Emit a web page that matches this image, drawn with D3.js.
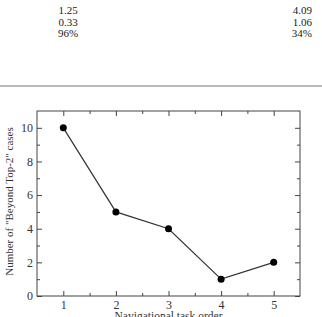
<!DOCTYPE html>
<html>
<head>
<meta charset="utf-8">
<script src="https://cdn.jsdelivr.net/npm/d3@7"></script>
<style>
  body { margin:0; background:#fff; }
</style>
</head>
<body>
<script>
// table fragment at the top
const tableLeft = ['1.25', '0.33', '96%'];
const tableRight = ['4.09', '1.06', '34%'];

// chart values
const taskOrder = [1, 2, 3, 4, 5];
const beyondTop2 = [10, 5, 4, 1, 2];
const xTicks = [1, 2, 3, 4, 5];
const yTicks = [0, 2, 4, 6, 8, 10];

const W = 322, H = 317;
const serif = '"Times New Roman", "Liberation Serif", "DejaVu Serif", serif';
const svg = d3.select('body').append('svg').attr('width', W).attr('height', H);

// table rows
tableLeft.forEach((t, i) => {
  svg.append('text').text(t).attr('x', 68).attr('y', 14 + i * 11.5)
    .attr('text-anchor', 'middle').attr('font-family', serif).attr('font-size', '11px').attr('fill', '#222');
});
tableRight.forEach((t, i) => {
  svg.append('text').text(t).attr('x', 312).attr('y', 14 + i * 11.5)
    .attr('text-anchor', 'end').attr('font-family', serif).attr('font-size', '11px').attr('fill', '#222');
});
svg.append('line').attr('x1', 0).attr('x2', W).attr('y1', 86).attr('y2', 86)
  .attr('stroke', '#777').attr('stroke-width', 1.2);

// plot area
const margin = {top: 111, right: 22, bottom: 21, left: 37};
const innerW = W - margin.left - margin.right;
const innerH = H - margin.top - margin.bottom;
const g = svg.append('g').attr('transform', `translate(${margin.left},${margin.top})`);

const xScale = d3.scaleLinear().domain([0.5, 5.5]).range([0, innerW]);
const yScale = d3.scaleLinear().domain([0, 11]).range([innerH, 0]);

const xMinor = d3.range(1.5, 5.5, 1);
const yMinor = d3.range(1, 11, 2);

// axes: ticks pointing inward
const tickCol = '#444';
g.append('g').attr('transform', `translate(0,${innerH})`)
  .call(d3.axisBottom(xScale).tickValues(xTicks).tickSize(-5).tickPadding(4).tickFormat(d3.format('d')));
g.append('g').call(d3.axisTop(xScale).tickValues(xTicks).tickSize(-5).tickFormat(''));
g.append('g')
  .call(d3.axisLeft(yScale).tickValues(yTicks).tickSize(-5).tickPadding(4).tickFormat(d3.format('d')));
g.append('g').attr('transform', `translate(${innerW},0)`)
  .call(d3.axisRight(yScale).tickValues(yTicks).tickSize(-5).tickFormat(''));

// minor ticks
g.append('g').attr('transform', `translate(0,${innerH})`).call(d3.axisBottom(xScale).tickValues(xMinor).tickSize(-3).tickFormat(''));
g.append('g').call(d3.axisTop(xScale).tickValues(xMinor).tickSize(-3).tickFormat(''));
g.append('g').call(d3.axisLeft(yScale).tickValues(yMinor).tickSize(-3).tickFormat(''));
g.append('g').attr('transform', `translate(${innerW},0)`).call(d3.axisRight(yScale).tickValues(yMinor).tickSize(-3).tickFormat(''));

g.selectAll('.domain').remove();
g.selectAll('.tick line').attr('stroke', tickCol);
g.selectAll('g').attr('font-family', serif);
g.selectAll('.tick text').attr('font-size', '12px').attr('fill', '#333');

// frame
g.append('rect').attr('width', innerW).attr('height', innerH)
  .attr('fill', 'none').attr('stroke', '#444').attr('stroke-width', 1);

// line + markers
const pts = taskOrder.map((x, i) => [x, beyondTop2[i]]);
g.append('path').datum(pts)
  .attr('d', d3.line().x(d => xScale(d[0])).y(d => yScale(d[1])))
  .attr('fill', 'none').attr('stroke', '#333').attr('stroke-width', 1.2);
g.selectAll('circle').data(pts).enter().append('circle')
  .attr('cx', d => xScale(d[0])).attr('cy', d => yScale(d[1]))
  .attr('r', 3.5).attr('fill', '#000');

// axis labels
g.append('text').text('Navigational task order')
  .attr('x', innerW / 2).attr('y', innerH + 24)
  .attr('text-anchor', 'middle').attr('font-family', serif).attr('font-size', '11.5px').attr('fill', '#333');
g.append('text').text('Number of "Beyond Top-2" cases')
  .attr('transform', 'rotate(-90)')
  .attr('x', -innerH / 2 + 2).attr('y', -24)
  .attr('text-anchor', 'middle').attr('font-family', serif).attr('font-size', '11px').attr('fill', '#333');
</script>
</body>
</html>
